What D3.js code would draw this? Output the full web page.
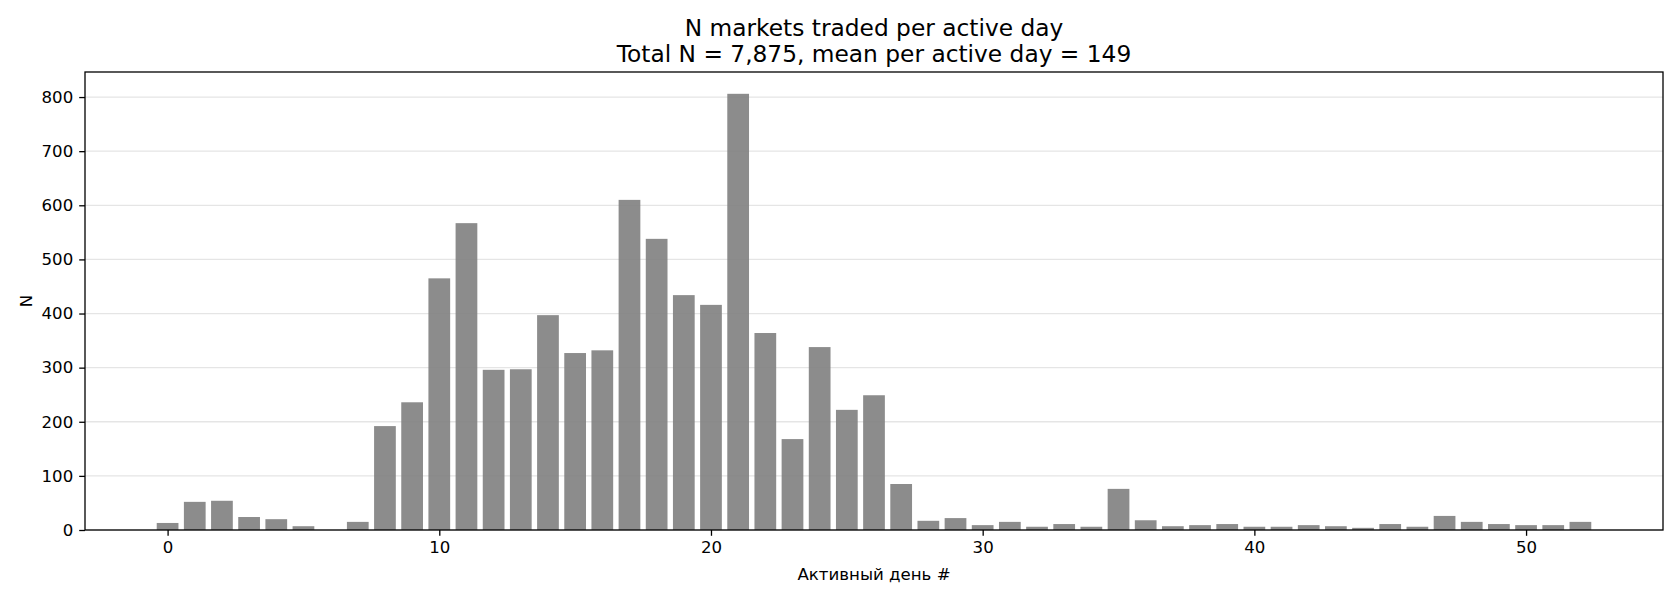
<!DOCTYPE html>
<html>
<head>
<meta charset="utf-8">
<script src="https://cdn.jsdelivr.net/npm/d3@7"></script>
<style>
    body { margin: 0; background: #fff; }
    text { font-family: "DejaVu Sans", sans-serif; fill: #000; }
</style>
</head>
<body>
<div id="chart"></div>
<script>
// Data: markets traded per active day
const days = d3.range(0, 53);
const counts = [
    13, 52, 54, 24, 20, 7, 0, 15, 192, 236,
    465, 567, 296, 297, 397, 327, 332, 610, 538, 434,
    416, 806, 364, 168, 338, 222, 249, 85, 17, 22,
    9, 15, 6, 11, 6, 76, 18, 7, 9, 11,
    6, 6, 9, 7, 4, 11, 6, 26, 15, 11,
    9, 9, 15
];
const xTicks = [0, 10, 20, 30, 40, 50];
const yTicks = [0, 100, 200, 300, 400, 500, 600, 700, 800];
const titleLines = ["N markets traded per active day", "Total N = 7,875, mean per active day = 149"];

// Set up dimensions and margins
const totalWidth = 1680, totalHeight = 600;
const margin = { top: 72, right: 17, bottom: 70, left: 85 };
const width = totalWidth - margin.left - margin.right;
const height = totalHeight - margin.top - margin.bottom;

const svg = d3.select("#chart")
    .append("svg")
    .attr("width", totalWidth)
    .attr("height", totalHeight);

const g = svg.append("g")
    .attr("transform", `translate(${margin.left},${margin.top})`);

// Scales (matplotlib-like 5% margins)
const barW = 0.8;
const xMin = -barW / 2, xMax = days.length - 1 + barW / 2;
const xPad = (xMax - xMin) * 0.05;
const x = d3.scaleLinear()
    .domain([xMin - xPad, xMax + xPad])
    .range([0, width]);

const y = d3.scaleLinear()
    .domain([0, d3.max(counts) * 1.05])
    .range([height, 0]);

// Gridlines
g.append("g")
    .selectAll("line")
    .data(yTicks)
    .enter()
    .append("line")
    .attr("x1", 0)
    .attr("x2", width)
    .attr("y1", d => y(d))
    .attr("y2", d => y(d))
    .style("stroke", "#e5e5e5")
    .style("stroke-width", "1.3px");

// Bars
g.selectAll(".bar")
    .data(days)
    .enter()
    .append("rect")
    .attr("class", "bar")
    .attr("x", d => x(d - barW / 2))
    .attr("y", d => y(counts[d]))
    .attr("width", x(barW) - x(0))
    .attr("height", d => height - y(counts[d]))
    .style("fill", "gray")
    .style("fill-opacity", 0.9);

// Axes
const xAxis = g.append("g")
    .attr("transform", `translate(0,${height})`)
    .call(d3.axisBottom(x).tickValues(xTicks).tickFormat(d3.format("d")).tickSize(5.8).tickPadding(5));

const yAxis = g.append("g")
    .call(d3.axisLeft(y).tickValues(yTicks).tickFormat(d3.format("d")).tickSize(5.8).tickPadding(6));

[xAxis, yAxis].forEach(a => {
    a.select(".domain").remove();
    a.selectAll("line").style("stroke", "#000").style("stroke-width", "1.3px");
    a.selectAll("text").style("font-size", "16.6px").style("font-family", "DejaVu Sans");
});

// Frame
g.append("rect")
    .attr("width", width)
    .attr("height", height)
    .style("fill", "none")
    .style("stroke", "#000")
    .style("stroke-width", "1.3px");

// Title
svg.append("g")
    .selectAll("text")
    .data(titleLines)
    .enter()
    .append("text")
    .attr("x", margin.left + width / 2)
    .attr("y", (d, i) => 36 + i * 26)
    .attr("text-anchor", "middle")
    .style("font-size", "23.3px")
    .text(d => d);

// Axis labels
svg.append("text")
    .attr("x", margin.left + width / 2)
    .attr("y", 580)
    .attr("text-anchor", "middle")
    .style("font-size", "16.6px")
    .text("Активный день #");

svg.append("text")
    .attr("transform", `translate(31.5,${margin.top + height / 2}) rotate(-90)`)
    .attr("text-anchor", "middle")
    .style("font-size", "16.6px")
    .text("N");
</script>
</body>
</html>
